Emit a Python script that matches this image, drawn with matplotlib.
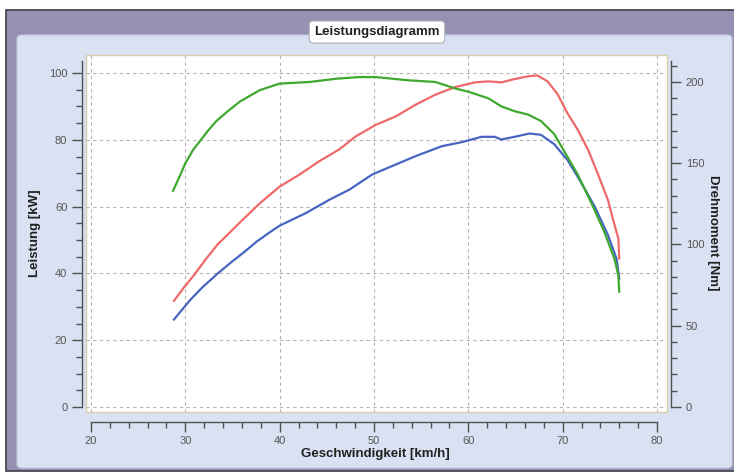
import numpy as np
import matplotlib
matplotlib.use("Agg")
import matplotlib.pyplot as plt
from matplotlib.patches import Rectangle, FancyBboxPatch
from matplotlib.ticker import MultipleLocator, FixedLocator

# speed [km/h] and curves
speed_green = [28.7, 29.4, 30.0, 30.8, 31.6, 32.4, 33.3, 34.5, 35.8, 37.9, 40.0, 43.2,
               46.0, 48.4, 50.2, 53.7, 56.5, 58.6, 60.0, 62.1, 63.5, 64.9, 66.3, 67.7,
               69.1, 70.2, 71.6, 73.0, 74.4, 75.5, 75.9, 76.0]
torque_nm = [133, 142, 150, 158, 164, 170, 176, 182, 188, 195, 199, 200,
             202, 203, 203, 201, 200, 196, 194, 190, 185, 182, 180, 176,
             168, 157, 143, 126, 108, 91, 81, 71]

speed_red = [28.8, 29.8, 30.9, 32.1, 33.4, 35.8, 37.9, 40.0, 42.1, 44.2, 46.3, 48.1,
             50.2, 52.3, 54.4, 56.5, 58.6, 60.7, 62.1, 63.5, 64.9, 66.3, 67.3, 68.4,
             69.5, 70.5, 71.6, 72.7, 73.7, 74.8, 75.5, 75.9, 76.0]
power_red = [31.8, 35.6, 39.4, 44.0, 48.6, 55.3, 61.0, 66.0, 69.6, 73.6, 77.1, 81.1,
             84.5, 87.0, 90.5, 93.5, 95.8, 97.2, 97.5, 97.2, 98.2, 99.0, 99.3, 97.5,
             93.5, 88.0, 83.0, 77.0, 70.0, 62.0, 54.5, 50.5, 44.5]

speed_blue = [28.8, 29.7, 30.5, 31.8, 33.4, 34.8, 36.2, 37.6, 39.0, 40.0, 42.8, 45.3,
              47.4, 49.8, 52.3, 54.4, 57.2, 59.3, 61.4, 62.8, 63.5, 64.9, 66.5, 67.7,
              69.1, 70.5, 71.9, 73.4, 74.8, 75.7, 76.0]
power_blue = [26.2, 29.3, 32.0, 35.8, 39.9, 43.2, 46.3, 49.6, 52.4, 54.3, 58.1, 62.1,
              65.1, 69.6, 72.6, 75.1, 78.1, 79.3, 80.9, 80.9, 80.1, 80.9, 81.9, 81.5,
              78.7, 74.0, 67.5, 60.0, 51.5, 44.5, 38.5]

W, H = 734, 475
fx = lambda px: px / W
fy = lambda py: 1 - py / H

plt.rcParams['font.family'] = ['Liberation Sans', 'DejaVu Sans']

fig = plt.figure(figsize=(W / 100, H / 100), dpi=100)
fig.patch.set_facecolor("white")

# window frame and panel (behind the axes)
fig.patches.append(Rectangle((fx(6), fy(471)), fx(734 - 6) + 0.01, (471 - 10) / H,
                             transform=fig.transFigure, facecolor="#9591b3",
                             edgecolor="#3c3c48", linewidth=1.2, zorder=-2))
fig.patches.append(FancyBboxPatch((fx(17), fy(468)), fx(732 - 17), (468 - 35) / H,
                                  boxstyle="round,pad=0,rounding_size=0.008",
                                  transform=fig.transFigure, facecolor="#d9e1f2",
                                  edgecolor="#c4cce0", linewidth=0.8, zorder=-1))

fig.text(fx(377), fy(32), "Leistungsdiagramm", ha="center", va="center",
         fontsize=9.5, fontweight="bold", color="#202020",
         bbox=dict(boxstyle="round,pad=0.38,rounding_size=0.3", facecolor="white",
                   edgecolor="#b0b0b8", linewidth=0.8))

ax = fig.add_axes([fx(86), fy(412), fx(667 - 86), (412 - 55) / H])
ax.set_facecolor("white")
ax.patch.set_edgecolor("#d6cfae")
ax.patch.set_linewidth(1.0)

ax.set_xlim(19.47, 81.06)
ax.set_ylim(-1.5, 105.4)
k = 2.055
ax2 = ax.twinx()
ax2.set_ylim(-1.5 * k, 105.4 * k)

ax.plot(speed_red, power_red, color="#ee6a6a", lw=1.6, zorder=3)
ax.plot(speed_blue, power_blue, color="#4765c0", lw=1.6, zorder=3)
ax2.plot(speed_green, torque_nm, color="#3fa82e", lw=1.6, zorder=3)

# grid
ax.grid(True, which="major", linestyle=(0, (3, 3)), color="#b4b4b4", linewidth=0.8)
ax.set_axisbelow(True)

# spines
for s in ["top", "right"]:
    ax.spines[s].set_visible(False)
for s in ["top", "left", "bottom"]:
    ax2.spines[s].set_visible(False)
ax.spines["left"].set_position(("outward", 3))
ax.spines["left"].set_bounds(0, 103.5)
ax.spines["bottom"].set_position(("outward", 7))
ax.spines["bottom"].set_bounds(20, 80)
ax2.spines["right"].set_position(("outward", 3))
ax2.spines["right"].set_bounds(0, 213)
for sp in [ax.spines["left"], ax.spines["bottom"], ax2.spines["right"]]:
    sp.set_color("#505050")
    sp.set_linewidth(1.0)

ax.xaxis.set_major_locator(MultipleLocator(10))
ax.xaxis.set_minor_locator(FixedLocator(np.arange(20, 81, 2)))
ax.yaxis.set_major_locator(MultipleLocator(20))
ax.yaxis.set_minor_locator(FixedLocator(np.arange(0, 101, 5)))
ax2.yaxis.set_major_locator(MultipleLocator(50))
ax2.yaxis.set_minor_locator(FixedLocator(np.arange(0, 211, 10)))

for a in (ax, ax2):
    a.tick_params(which="major", length=7, width=1, color="#505050",
                  labelcolor="#555555", labelsize=8)
    a.tick_params(which="minor", length=4, width=1, color="#505050")

lab = dict(fontsize=9.5, fontweight="bold", color="#202020")
ax.set_xlabel("Geschwindigkeit [km/h]", **lab)
ax.xaxis.set_label_coords((375 - 86) / 581, -(448 - 412) / 357)
ax.set_ylabel("Leistung [kW]", **lab)
ax.yaxis.set_label_coords((41 - 86) / 581, (412 - 233) / 357)
ax2.set_ylabel("Drehmoment [Nm]", rotation=-90, **lab)
ax2.yaxis.set_label_coords((719 - 86) / 581, (412 - 233) / 357)

fig.savefig("out.png", dpi=100)
